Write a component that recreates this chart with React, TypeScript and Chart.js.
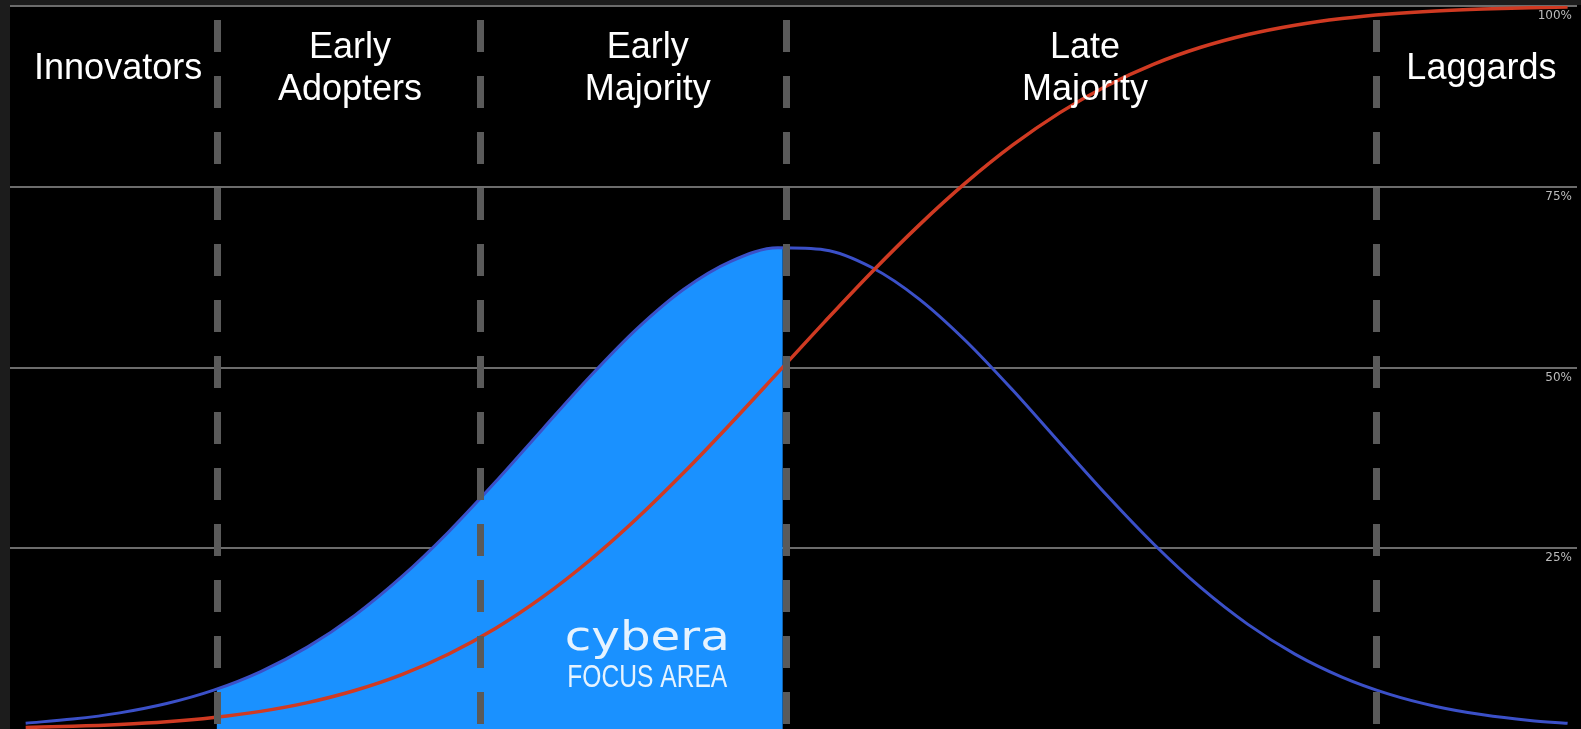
import React, { useEffect, useRef } from "react";
import { Chart, registerables } from "chart.js";

Chart.register(...registerables);

// ---- data ----
// position along the adoption timeline (0 = left edge of plot, 100 = right edge)
const xPositions = [1, 4, 7, 10, 13, 16, 19, 22, 25, 28, 31, 34, 37, 40, 43, 46, 49, 52, 55, 58, 61, 64, 67, 70, 73, 76, 79, 82, 85, 88, 91, 94, 97, 99.4];
// bell curve: share of adopters (%)
const adoptionShare = [0.81, 1.37, 2.23, 3.52, 5.37, 7.94, 11.36, 15.72, 21.06, 27.29, 34.22, 41.51, 48.72, 55.34, 60.82, 64.68, 66.55, 66.26, 63.83, 59.5, 53.67, 46.84, 39.55, 32.32, 25.55, 19.54, 14.47, 10.36, 7.18, 4.82, 3.12, 1.96, 1.19, 0.78];
// S-curve: cumulative adoption (%)
const cumulativeAdoption = [0.21, 0.37, 0.62, 1.0, 1.59, 2.44, 3.65, 5.32, 7.52, 10.38, 13.94, 18.27, 23.34, 29.11, 35.47, 42.26, 49.29, 56.35, 63.21, 69.66, 75.56, 80.78, 85.25, 88.97, 91.96, 94.29, 96.06, 97.35, 98.27, 98.9, 99.32, 99.59, 99.76, 99.85];
// segment boundaries (dashed dividers)
const segmentBoundaries = [13.2, 30.0, 49.5, 87.2];
// adopter categories and where their labels sit on the timeline
const phaseNames = [["Innovators"], ["Early", "Adopters"], ["Early", "Majority"], ["Late", "Majority"], ["Laggards"]];
const phaseCenters = [6.9, 21.7, 40.7, 68.6, 93.9];
// focus area spans from the first to the third boundary
const focusRange = [13.2, 49.5];
const focusTitle = "cybera";
const focusSubtitle = "FOCUS AREA";
const yTickValues = [0, 25, 50, 75, 100];

const FILL_INDEX = 0;

function drawScaledText(ctx: CanvasRenderingContext2D, text: string, cx: number, baseline: number, targetWidth: number) {
  const w = ctx.measureText(text).width;
  const s = targetWidth / w;
  ctx.save();
  ctx.translate(cx, baseline);
  ctx.scale(s, 1);
  ctx.textAlign = "center";
  ctx.textBaseline = "alphabetic";
  ctx.fillText(text, 0, 0);
  ctx.restore();
}

const decorPlugin = {
  id: "decor",
  beforeDraw(chart: any) {
    const { ctx, chartArea: a } = chart;
    ctx.save();
    ctx.fillStyle = "#1c1c1c";
    ctx.fillRect(0, 0, chart.width, chart.height);
    ctx.fillStyle = "#000000";
    ctx.fillRect(a.left, a.top - 1, chart.width - a.left, chart.height - a.top + 1);
    ctx.restore();
  },
  // the Filler plugin paints the area in its own beforeDatasetDraw hook,
  // so the clip must already be active before any dataset is drawn
  beforeDatasetsDraw(chart: any) {
    const { ctx, chartArea: a } = chart;
    const xs = chart.scales.x;
    const x0 = xs.getPixelForValue(focusRange[0]);
    const x1 = xs.getPixelForValue(focusRange[1]) - 3;
    ctx.save();
    ctx.beginPath();
    ctx.rect(x0, a.top - 10, x1 - x0, a.bottom - a.top + 20);
    ctx.clip();
  },
  afterDatasetDraw(chart: any, args: any) {
    if (args.index !== FILL_INDEX) return;
    chart.ctx.restore();
  },
  afterDatasetsDraw(chart: any) {
    const { ctx, chartArea: a } = chart;
    const xs = chart.scales.x;
    // dashed dividers
    ctx.save();
    ctx.strokeStyle = "#5a5a5a";
    ctx.lineWidth = 7;
    ctx.setLineDash([32, 24]);
    ctx.lineCap = "butt";
    segmentBoundaries.forEach((b) => {
      const x = Math.round(xs.getPixelForValue(b)) + 0.5;
      ctx.beginPath();
      ctx.moveTo(x, a.top + 14);
      ctx.lineTo(x, a.bottom);
      ctx.stroke();
    });
    ctx.restore();

    // phase labels
    ctx.save();
    ctx.fillStyle = "#ffffff";
    ctx.font = '36px "Liberation Sans", Arial, sans-serif';
    ctx.textAlign = "center";
    ctx.textBaseline = "alphabetic";
    phaseNames.forEach((lines, i) => {
      const cx = xs.getPixelForValue(phaseCenters[i]);
      if (lines.length === 1) {
        ctx.fillText(lines[0], cx, a.top + 73);
      } else {
        ctx.fillText(lines[0], cx, a.top + 51.5);
        ctx.fillText(lines[1], cx, a.top + 93.5);
      }
    });
    ctx.restore();

    // focus area logo text
    const lx = (xs.getPixelForValue(focusRange[0]) + xs.getPixelForValue(focusRange[1])) / 2 + 146;
    ctx.save();
    ctx.fillStyle = "#e6f3ff";
    ctx.font = '40px "DejaVu Sans", sans-serif';
    drawScaledText(ctx, focusTitle, lx, a.bottom - 79, 165);
    ctx.font = '31px "Liberation Sans", Arial, sans-serif';
    drawScaledText(ctx, focusSubtitle, lx, a.bottom - 42, 160);
    ctx.restore();
  },
};

export default function App() {
  const canvasRef = useRef<HTMLCanvasElement | null>(null);

  useEffect(() => {
    if (!canvasRef.current) return;
    const bell = xPositions.map((x, i) => ({ x, y: adoptionShare[i] }));
    const cum = xPositions.map((x, i) => ({ x, y: cumulativeAdoption[i] }));

    const chart = new Chart(canvasRef.current, {
      type: "line",
      data: {
        datasets: [
          {
            label: "Focus area",
            data: bell,
            borderWidth: 0,
            borderColor: "rgba(0,0,0,0)",
            backgroundColor: "#1a91ff",
            fill: "origin",
            pointRadius: 0,
            cubicInterpolationMode: "monotone",
            order: 3,
          },
          {
            label: "Adoption share",
            data: bell,
            borderColor: "#3b50c8",
            borderWidth: 3,
            fill: false,
            pointRadius: 0,
            cubicInterpolationMode: "monotone",
            order: 2,
          },
          {
            label: "Cumulative adoption",
            data: cum,
            borderColor: "#d03a22",
            borderWidth: 3.5,
            fill: false,
            pointRadius: 0,
            cubicInterpolationMode: "monotone",
            order: 1,
          },
        ],
      },
      options: {
        animation: false,
        responsive: true,
        maintainAspectRatio: false,
        layout: { padding: { left: 10, top: 6, right: 4, bottom: 0 } },
        plugins: { legend: { display: false }, tooltip: { enabled: false } },
        events: [],
        scales: {
          x: { type: "linear", min: 0, max: 100, display: false },
          y: {
            type: "linear",
            min: 0,
            max: 100,
            position: "right",
            z: 1,
            afterBuildTicks: (s: any) => {
              s.ticks = yTickValues.map((v) => ({ value: v }));
            },
            afterFit: (s: any) => {
              s.width = 0;
              s.paddingTop = 0;
              s.paddingBottom = 0;
            },
            border: { display: false },
            grid: {
              color: (c: any) => (c.tick && c.tick.value === 0 ? "rgba(0,0,0,0)" : "rgba(150,150,150,0.72)"),
              lineWidth: 2,
              drawTicks: false,
            },
            ticks: {
              mirror: true,
              padding: -5,
              labelOffset: 10,
              color: "#bbbbbb",
              font: { size: 12, family: '"DejaVu Sans", sans-serif' },
              callback: (v: any) => (Number(v) === 0 ? "" : v + "%"),
            },
          },
        },
      },
      plugins: [decorPlugin],
    });
    return () => chart.destroy();
  }, []);

  return (
    <div style={{ position: "fixed", left: 0, top: 0, width: "100vw", height: "100vh", background: "#1c1c1c" }}>
      <canvas ref={canvasRef} />
    </div>
  );
}
